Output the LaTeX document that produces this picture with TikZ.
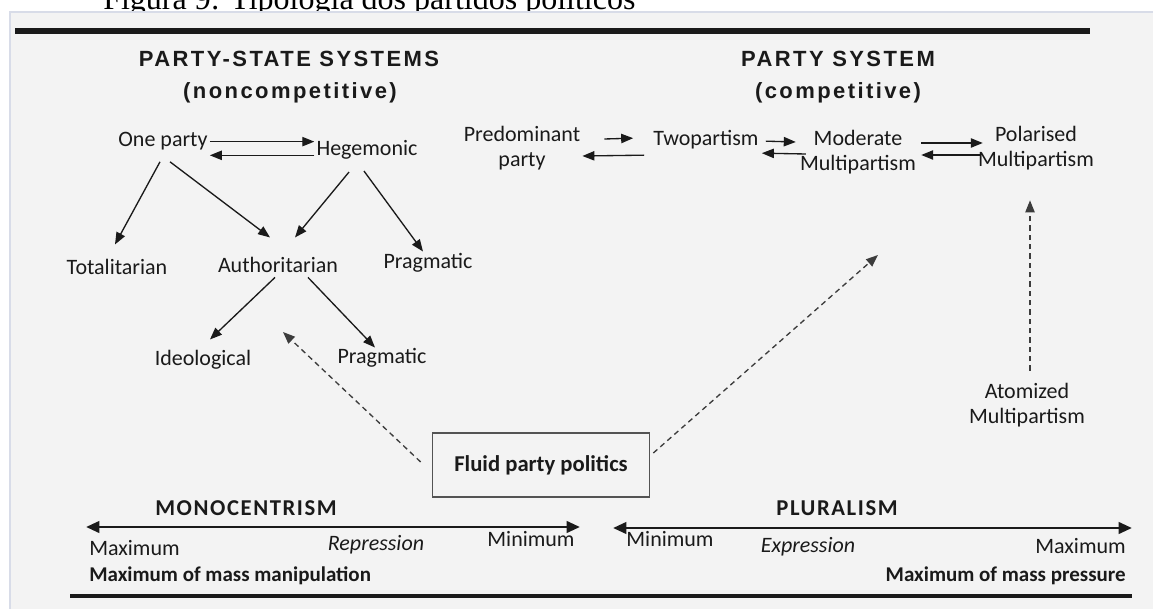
\documentclass[tikz,border=0pt]{standalone}
\usepackage{fontspec}
\setmainfont{Carlito}
\newfontfamily\headfont[LetterSpace=11]{Liberation Sans}
\newfontfamily\capfont{Liberation Serif}
\newfontfamily\trackfont[LetterSpace=7]{Carlito}
\usetikzlibrary{arrows.meta,calc}
\definecolor{panelgray}{HTML}{F3F3F3}
\definecolor{panelrule}{HTML}{D8DCE8}
\definecolor{ink}{HTML}{1A1A1A}

\begin{document}
\begin{tikzpicture}[x=0.75pt, y=-0.75pt,
  every node/.style={font=\fontsize{16.5}{19}\selectfont, inner sep=1.5pt, text=ink},
  type/.style={anchor=base},
  twoline/.style={align=center},
  head/.style={anchor=base, font=\headfont\bfseries\fontsize{16.5}{19}\selectfont},
  track/.style={anchor=base, font=\trackfont\bfseries\fontsize{17}{19}\selectfont},
  bold/.style={font=\bfseries\fontsize{15.75}{19}\selectfont},
  ital/.style={anchor=base, font=\itshape\fontsize{16.5}{19}\selectfont},
  arr/.style={-{Triangle[length=9pt,width=7pt]}, line width=1pt, draw=ink},
  dasharr/.style={arr, draw=ink!85, dash pattern=on 4pt off 3pt},
  axis/.style={{Triangle[length=10pt,width=8.5pt]}-{Triangle[length=10pt,width=8.5pt]}, line width=2.2pt, draw=ink}]

\useasboundingbox (0,0) rectangle (1153,609);
\clip (0,0) rectangle (1153,609);

% caption above the frame
\node[anchor=base west, inner sep=0, font=\capfont\fontsize{24}{28}\selectfont, text=black] (caption) at (103,10) {Figura 9: Tipologia dos partidos políticos};
\fill[panelgray, draw=panelrule, line width=1.2pt] (10,12) rectangle (1170,630);

\draw[line width=3.8pt, ink] (15,31) -- (1090,31);
\draw[line width=3.6pt, ink] (70,596) -- (1132,596);

% headings
\node[head] (pss) at (289,67) {PARTY-STATE SYSTEMS};
\node[head] (noncomp) at (290,99) {(noncompetitive)};
\node[head] (ps) at (838,67) {PARTY SYSTEM};
\node[head] (comp) at (838,99) {(competitive)};

% noncompetitive side
\node[type] (onep) at (163,147) {One party};
\node[type] (heg) at (367,156) {Hegemonic};
\node[type] (tot) at (117,275) {Totalitarian};
\node[type] (auth) at (278,273) {Authoritarian};
\node[type] (pragA) at (428,269) {Pragmatic};
\node[type] (ideo) at (203,366) {Ideological};
\node[type] (pragB) at (382,364) {Pragmatic};

\draw[arr] (onep.east) -- (onep.east -| heg.west);
\draw[arr] ($(heg.west)+(0,5)$) -- ($(heg.west -| onep.east)+(0,5)$);
\draw[arr] ($(onep.south)+(-3,9)$) -- ($(tot.north)+(-2,-13)$);
\draw[arr] ($(onep.south)+(7,9)$) -- ($(auth.north)+(-8,-18)$);
\draw[arr] ($(heg.south)+(-18,10)$) -- ($(auth.north)+(17,-18)$);
\draw[arr] ($(heg.south)+(-3,9)$) -- ($(pragA.north)+(-5,0)$);
\draw[arr] ($(auth.south)+(-3,2)$) -- ($(ideo.north)+(7,-9)$);
\draw[arr] ($(auth.south)+(30,2)$) -- ($(pragB.north)+(-7,1)$);

% competitive side
\node[twoline] (pred) at (522,148) {Predominant\\party};
\node[type] (two) at (706,146) {Twopartism};
\node[twoline] (mod) at (858,152) {Moderate\\Multipartism};
\node[twoline] (polar) at (1036,148) {Polarised\\Multipartism};
\node[twoline] (atom) at (1027,405) {Atomized\\Multipartism};

\draw[arr] ($(pred.east)+(22,-9)$) -- ($(two.west)+(-18,-2)$);
\draw[arr] ($(two.west)+(-7,15)$) -- ($(pred.east)+(0,8)$);
\draw[arr] ($(two.east)+(5,1)$) -- ($(mod.west)+(-2,-10)$);
\draw[arr] ($(mod.west)+(8,2)$) -- ($(two.east)+(1,13)$);
\draw[arr] ($(mod.east)+(3,-9)$) -- ($(polar.west)+(7,-5)$);
\draw[arr] ($(polar.west)+(5,7)$) -- ($(mod.east)+(3,3)$);

% fluid politics
\node[draw=ink!75, line width=1pt, minimum width=163pt, minimum height=48pt, font=\bfseries\fontsize{17}{19}\selectfont] (fluid) at (541,465) {Fluid party politics};
\coordinate (toAuth) at (283,332);
\coordinate (toComp) at (878,255);
\draw[dasharr] ($(fluid.west)+(-11,-3)$) -- (toAuth);
\draw[dasharr] ($(fluid.east)+(3,-12)$) -- (toComp);
\draw[dasharr] ($(atom.north)+(3,-10)$) -- ($(polar.south)+(-6,28)$);

% scales
\node[track] (mono) at (246,515) {MONOCENTRISM};
\node[track] (plur) at (837,515) {PLURALISM};
\coordinate (monoL) at (86,527);
\coordinate (monoR) at (580,527);
\coordinate (plurL) at (613,528);
\coordinate (plurR) at (1132,528);
\draw[axis] (monoL) -- (monoR);
\draw[axis] (plurL) -- (plurR);

\node[anchor=base west] (maxL) at (87,555) {Maximum};
\node[ital] (repr) at (376,550) {Repression};
\node[type] (minL) at (531,546) {Minimum};
\node[bold, anchor=base west] (manip) at (87,581) {Maximum of mass manipulation};
\node[type] (minR) at (670,546) {Minimum};
\node[ital] (expr) at (808,552) {Expression};
\node[anchor=base east] (maxR) at (1128,553) {Maximum};
\node[bold, anchor=base east] (press) at (1128,581) {Maximum of mass pressure};
\end{tikzpicture}
\end{document}
